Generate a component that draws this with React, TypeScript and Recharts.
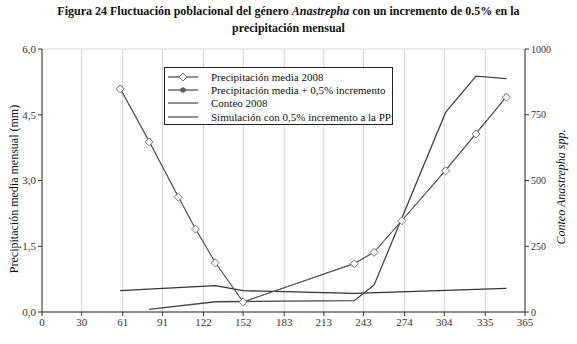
import { LineChart, Line, XAxis, YAxis, CartesianGrid } from "recharts";

const xTicks = [0, 30, 61, 91, 122, 152, 183, 213, 243, 274, 304, 335, 365];
const leftTicks = [0, 1.5, 3, 4.5, 6];
const rightTicks = [0, 250, 500, 750, 1000];

// precipitation (mm)
const precipDays = [59, 81, 103, 116, 131, 152, 236, 251, 272, 305, 328, 351];
const precip2008 = [5.09, 3.88, 2.62, 1.89, 1.12, 0.23, 1.1, 1.36, 2.08, 3.22, 4.06, 4.9];
const precipPlus = [5.11, 3.9, 2.63, 1.9, 1.13, 0.23, 1.11, 1.37, 2.09, 3.24, 4.08, 4.92];

// fly counts (right axis)
const conteoDays = [81, 131, 152, 236, 251, 305, 328, 351];
const conteo2008 = [10, 39, 40, 43, 103, 759, 897, 887];
const simDays = [59, 131, 152, 236, 351];
const simulacion = [81, 100, 81, 71, 90];

const precipData = precipDays.map((d, i) => ({ day: d, v: precip2008[i] }));
const precipPlusData = precipDays.map((d, i) => ({ day: d, v: precipPlus[i] }));
const conteoData = conteoDays.map((d, i) => ({ day: d, c: conteo2008[i] }));
const simData = simDays.map((d, i) => ({ day: d, c: simulacion[i] }));

const serif = "'Liberation Serif', 'Times New Roman', serif";

const Diamond = (p: any) => {
  const { cx, cy } = p;
  if (cx == null || cy == null) return null;
  return (
    <path
      d={`M${cx},${cy - 4}L${cx + 4},${cy}L${cx},${cy + 4}L${cx - 4},${cy}Z`}
      fill="#fff"
      stroke="#777"
      strokeWidth={1}
    />
  );
};

const Dot = (p: any) => {
  const { cx, cy } = p;
  if (cx == null || cy == null) return null;
  return <circle cx={cx} cy={cy} r={2.3} fill="#666" stroke="#444" strokeWidth={0.8} />;
};

const legendItems = [
  { name: "Precipitación media 2008", mark: "diamond" },
  { name: "Precipitación media + 0,5% incremento", mark: "dot" },
  { name: "Conteo 2008", mark: "none" },
  { name: "Simulación con 0,5% incremento a la PP", mark: "none" },
];

const LegendBox = () => (
  <div
    style={{
      position: "absolute",
      left: 164,
      top: 67,
      boxSizing: "border-box",
      border: "1px solid #222",
      background: "#fff",
      width: 229,
      height: 58,
      padding: "2px 0 0 0",
      fontFamily: serif,
      fontSize: 11,
      color: "#111",
    }}
  >
    {legendItems.map((it) => (
      <div key={it.name} style={{ display: "flex", alignItems: "center", height: 13.3 }}>
        <svg width={30} height={12} style={{ marginLeft: 3, marginRight: 13, flexShrink: 0 }}>
          <line x1={0} y1={6} x2={30} y2={6} stroke="#444" strokeWidth={1.2} />
          {it.mark === "diamond" && <Diamond cx={15} cy={6} />}
          {it.mark === "dot" && <Dot cx={15} cy={6} />}
        </svg>
        <span style={{ whiteSpace: "nowrap" }}>{it.name}</span>
      </div>
    ))}
  </div>
);

export default function App() {
  return (
    <div
      style={{
        position: "absolute",
        left: 0,
        top: 0,
        width: 577,
        height: 344,
        background: "#fff",
        fontFamily: serif,
      }}
    >
      <div
        style={{
          position: "absolute",
          top: 3,
          left: 0,
          width: 577,
          textAlign: "center",
          fontWeight: "bold",
          fontSize: 12,
          lineHeight: "17px",
          color: "#111",
        }}
      >
        Figura 24 Fluctuación poblacional del género <i>Anastrepha</i> con un incremento de 0.5% en la
        <br />
        precipitación mensual
      </div>
      <LineChart
        width={577}
        height={344}
        margin={{ top: 49, right: 0, bottom: 0, left: 0 }}
        style={{ position: "absolute", left: 0, top: 0 }}
      >
        <CartesianGrid stroke="#d4d4d4" strokeWidth={1} />
        <XAxis
          dataKey="day"
          type="number"
          domain={[0, 365]}
          ticks={xTicks}
          height={32}
          allowDuplicatedCategory={false}
          stroke="#333"
          tickSize={4}
          tick={{ fill: "#333", fontSize: 11, fontFamily: serif }}
        />
        <YAxis
          yAxisId="l"
          domain={[0, 6]}
          ticks={leftTicks}
          width={42}
          stroke="#333"
          tickSize={4}
          tickFormatter={(v: number) => v.toFixed(1).replace(".", ",")}
          tick={{ fill: "#333", fontSize: 11, fontFamily: serif }}
        />
        <YAxis
          yAxisId="r"
          orientation="right"
          domain={[0, 1000]}
          ticks={rightTicks}
          width={52}
          stroke="#333"
          tickSize={4}
          tick={{ fill: "#333", fontSize: 10, fontFamily: serif, textAnchor: "start" }}
        />
        <Line
          yAxisId="r"
          data={simData}
          dataKey="c"
          name="Simulación con 0,5% incremento a la PP"
          stroke="#333"
          strokeWidth={1.3}
          dot={false}
          activeDot={false}
          isAnimationActive={false}
        />
        <Line
          yAxisId="r"
          data={conteoData}
          dataKey="c"
          name="Conteo 2008"
          stroke="#444"
          strokeWidth={1.3}
          dot={false}
          activeDot={false}
          isAnimationActive={false}
        />
        <Line
          yAxisId="l"
          data={precipPlusData}
          dataKey="v"
          name="Precipitación media + 0,5% incremento"
          stroke="#333"
          strokeWidth={1}
          dot={<Dot />}
          activeDot={false}
          isAnimationActive={false}
        />
        <Line
          yAxisId="l"
          data={precipData}
          dataKey="v"
          name="Precipitación media 2008"
          stroke="#666"
          strokeWidth={1}
          dot={<Diamond />}
          activeDot={false}
          isAnimationActive={false}
        />
      </LineChart>
      <LegendBox />
      <div
        style={{
          position: "absolute",
          left: 14,
          top: 189,
          transform: "translate(-50%, -50%) rotate(-90deg)",
          whiteSpace: "nowrap",
          fontSize: 12,
          color: "#111",
        }}
      >
        Precipitación media mensual (mm)
      </div>
      <div
        style={{
          position: "absolute",
          left: 561,
          top: 187,
          transform: "translate(-50%, -50%) rotate(-90deg)",
          whiteSpace: "nowrap",
          fontSize: 12,
          fontStyle: "italic",
          color: "#111",
        }}
      >
        Conteo Anastrepha spp.
      </div>
    </div>
  );
}
